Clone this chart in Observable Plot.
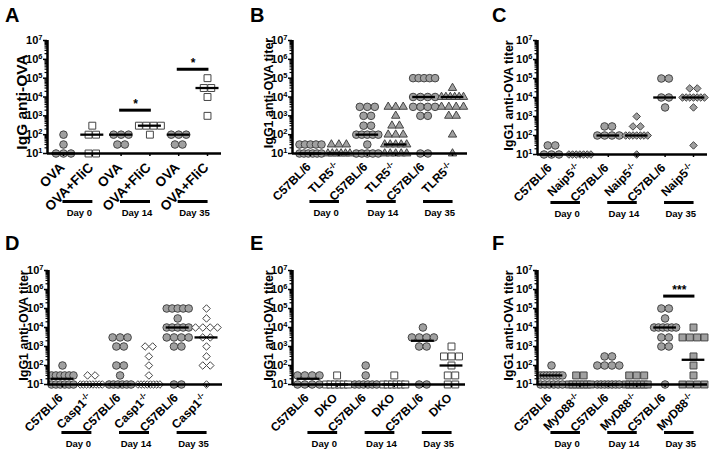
<!DOCTYPE html>
<html><head><meta charset="utf-8">
<script src="https://cdn.jsdelivr.net/npm/d3@7"></script>
<script src="https://cdn.jsdelivr.net/npm/@observablehq/plot@0.6"></script>
<style>
body{margin:0;background:#fff;font-family:"Liberation Sans",Arial,sans-serif;}
#fig{position:relative;width:714px;height:450px;overflow:hidden;background:#fff;}
.panel{position:absolute;}
.panel svg{overflow:visible;}
.letter{position:absolute;font-weight:bold;font-size:20px;line-height:20px;color:#000;}
</style></head><body><div id="fig"></div>
<script>
// ---------- shared ----------
const days = ["Day 0", "Day 14", "Day 35"];
const yTicks = [1e1, 1e2, 1e3, 1e4, 1e5, 1e6, 1e7];

// ---------- Panel A ----------
const labelsA = ["OVA", "OVA+FliC", "OVA", "OVA+FliC", "OVA", "OVA+FliC"];
const valuesA = [
  [100, 30, 10, 10, 10],
  [300, 100, 100, 10, 10],
  [100, 100, 100, 30, 30],
  [300, 300, 300, 300, 100],
  [100, 100, 100, 30, 30],
  [100000, 30000, 30000, 10000, 1000]
];
const mediansA = [10, 100, 100, 300, 100, 30000];
const sigPairsA = [1, 2];
const sigHeightsA = [2000, 300000];
const sigLabelsA = ["*", "*"];

// ---------- Panel B ----------
const labelsB = ["C57BL/6", "TLR5-/-", "C57BL/6", "TLR5-/-", "C57BL/6", "TLR5-/-"];
const valuesB = [
  [30, 30, 30, 30, 30, 10, 10, 10, 10, 10, 10],
  [30, 30, 30, 10, 10, 10, 10, 10, 10],
  [3000, 3000, 3000, 1000, 1000, 300, 300, 100, 100, 100, 100, 100, 30, 10, 10, 10, 10, 10],
  [3000, 3000, 3000, 1000, 300, 300, 100, 100, 100, 30, 30, 30, 30, 30, 10, 10, 10, 10, 10],
  [100000, 100000, 100000, 100000, 100000, 10000, 10000, 10000, 10000, 3000, 3000, 3000, 3000, 1000, 1000, 10, 10],
  [30000, 10000, 10000, 10000, 10000, 10000, 10000, 3000, 3000, 3000, 3000, 1000, 1000, 100, 10]
];
const mediansB = [10, 10, 100, 30, 10000, 10000];

// ---------- Panel C ----------
const labelsC = ["C57BL/6", "Naip5-/-", "C57BL/6", "Naip5-/-", "C57BL/6", "Naip5-/-"];
const valuesC = [
  [30, 30, 10, 10, 10],
  [10, 10, 10, 10, 10, 10, 10],
  [300, 300, 100, 100, 100, 100],
  [1000, 300, 300, 100, 100, 100, 100, 100, 100, 100, 10],
  [100000, 100000, 10000, 10000, 3000],
  [30000, 30000, 10000, 10000, 10000, 10000, 10000, 10000, 10000, 3000, 30]
];
const mediansC = [10, 10, 100, 100, 10000, 10000];

// ---------- Panel D ----------
const labelsD = ["C57BL/6", "Casp1-/-", "C57BL/6", "Casp1-/-", "C57BL/6", "Casp1-/-"];
const valuesD = [
  [100, 30, 30, 30, 30, 30, 30, 10, 10, 10, 10, 10, 10],
  [30, 30, 10, 10, 10, 10, 10, 10, 10, 10],
  [3000, 3000, 3000, 1000, 1000, 100, 100, 30, 10, 10, 10, 10, 10, 10],
  [1000, 1000, 300, 100, 30, 10, 10, 10, 10, 10, 10, 10, 10],
  [100000, 100000, 100000, 100000, 100000, 30000, 10000, 10000, 10000, 10000, 10000, 3000, 3000, 3000, 3000, 1000, 1000, 10, 10],
  [100000, 30000, 10000, 10000, 10000, 10000, 3000, 3000, 1000, 300, 100, 100, 10]
];
const mediansD = [20, 10, 10, 10, 10000, 3000];

// ---------- Panel E ----------
const labelsE = ["C57BL/6", "DKO", "C57BL/6", "DKO", "C57BL/6", "DKO"];
const valuesE = [
  [30, 30, 30, 30, 10, 10, 10, 10],
  [30, 10, 10, 10, 10, 10, 10],
  [100, 30, 10, 10, 10, 10, 10, 10],
  [30, 10, 10, 10, 10, 10, 10],
  [10000, 3000, 3000, 3000, 3000, 1000, 1000, 10, 10],
  [1000, 300, 300, 300, 100, 30, 30, 10, 10]
];
const mediansE = [20, 10, 10, 10, 2000, 100];

// ---------- Panel F ----------
const labelsF = ["C57BL/6", "MyD88-/-", "C57BL/6", "MyD88-/-", "C57BL/6", "MyD88-/-"];
const valuesF = [
  [100, 30, 30, 30, 30, 30, 30, 30, 30, 10, 10, 10, 10, 10, 10],
  [30, 30, 10, 10, 10, 10, 10, 10, 10],
  [300, 300, 100, 100, 100, 100, 10, 10, 10, 10, 10, 10, 10],
  [30, 30, 30, 10, 10, 10, 10, 10, 10, 10],
  [100000, 100000, 30000, 10000, 10000, 10000, 10000, 10000, 10000, 3000, 3000, 1000, 1000, 10],
  [10000, 3000, 3000, 3000, 3000, 300, 100, 30, 10, 10, 10, 10]
];
const mediansF = [30, 10, 10, 10, 10000, 200];
const sigPairsF = [2];
const sigHeightsF = [450000];
const sigLabelsF = ["***"];

// ---------- layout / style (not data) ----------
const GRAY = "#a0a0a0", EDGE = "#444";
const panels = [
  {letter: "A", labels: labelsA, values: valuesA, medians: mediansA, sigPairs: sigPairsA, sigHeights: sigHeightsA, sigLabels: sigLabelsA,
   ylab: "IgG anti-OVA", ylabSize: 15.5, ylabDx: -25, ylabDy: 5, tickSize: 13.5,
   g: {left: 0, top: 0, width: 235, axisL: 47, axisR: 221, c0: 63, c5: 207, yTop: 40, yBot: 153},
   s0: {symbol: "circle", r: 3.8, fill: GRAY}, s1: {symbol: "square", r: 3.9, fill: "#fff"}},
  {letter: "B", labels: labelsB, values: valuesB, medians: mediansB,
   ylab: "IgG1 anti-OVA titer", ylabSize: 12.5, ylabDx: -24, ylabDy: -4, tickSize: 12,
   g: {left: 235, top: 0, width: 235, axisL: 292, axisR: 467, c0: 310, c5: 452, yTop: 40, yBot: 153},
   s0: {symbol: "circle", r: 3.8, fill: GRAY}, s1: {symbol: "triangle", r: 3.1, fill: GRAY}},
  {letter: "C", labels: labelsC, values: valuesC, medians: mediansC,
   ylab: "IgG1 anti-OVA titer", ylabSize: 12.5, ylabDx: -29, ylabDy: -2, tickSize: 12,
   g: {left: 470, top: 0, width: 244, axisL: 537, axisR: 707, c0: 551, c5: 693, yTop: 40, yBot: 154},
   s0: {symbol: "circle", r: 3.8, fill: GRAY}, s1: {symbol: "diamond2", r: 3.4, fill: GRAY}},
  {letter: "D", labels: labelsD, values: valuesD, medians: mediansD,
   ylab: "IgG1 anti-OVA titer", ylabSize: 12.5, ylabDx: -25, ylabDy: -2, tickSize: 12,
   g: {left: 0, top: 225, width: 235, axisL: 48, axisR: 222, c0: 62, c5: 206, yTop: 270, yBot: 384},
   s0: {symbol: "circle", r: 3.8, fill: GRAY}, s1: {symbol: "diamond2", r: 3.4, fill: "#fff"}},
  {letter: "E", labels: labelsE, values: valuesE, medians: mediansE,
   ylab: "IgG1 anti-OVA titer", ylabSize: 12.5, ylabDx: -24, ylabDy: -2, tickSize: 12,
   g: {left: 235, top: 225, width: 235, axisL: 292, axisR: 465, c0: 308, c5: 451, yTop: 270, yBot: 384},
   s0: {symbol: "circle", r: 3.8, fill: GRAY}, s1: {symbol: "square", r: 3.9, fill: "#fff"}},
  {letter: "F", labels: labelsF, values: valuesF, medians: mediansF, sigPairs: sigPairsF, sigHeights: sigHeightsF, sigLabels: sigLabelsF,
   ylab: "IgG1 anti-OVA titer", ylabSize: 12.5, ylabDx: -29, ylabDy: -2, tickSize: 12,
   g: {left: 470, top: 225, width: 244, axisL: 537, axisR: 707, c0: 551, c5: 693, yTop: 270, yBot: 384},
   s0: {symbol: "circle", r: 3.8, fill: GRAY}, s1: {symbol: "square", r: 3.9, fill: GRAY}}
];

const minorTicks = [];
for (let e = 1; e < 7; e++) for (let m = 2; m < 10; m++) minorTicks.push(m * 10 ** e);

function supify(svg) {
  svg.querySelectorAll("text").forEach(t => {
    const s = t.textContent;
    let m = s.match(/^(.*?)\^(.+)$/) || s.match(/^(.*?)(-\/-)$/);
    if (!m) return;
    t.textContent = m[1];
    const ts = document.createElementNS("http://www.w3.org/2000/svg", "tspan");
    ts.setAttribute("font-size", "0.68em");
    ts.setAttribute("dy", "-0.5em");
    ts.textContent = m[2];
    t.appendChild(ts);
  });
}

const fig = document.getElementById("fig");
for (const p of panels) {
  const g = p.g;
  const unit = (g.c5 - g.c0) / 5;
  const x0 = -(g.c0 - g.axisL) / unit, x1 = 5 + (g.axisR - g.c5) / unit;
  // horizontal spread of equal values within a group (layout only)
  const pts = [];
  p.values.forEach((vals, gi) => {
    const counts = d3.rollup(vals, v => v.length, v => v);
    const seen = new Map();
    vals.forEach(v => {
      const k = counts.get(v), j = seen.get(v) || 0;
      seen.set(v, j + 1);
      const sp = k > 1 ? Math.min(7.5, 22 / (k - 1)) : 0;
      pts.push({grp: gi, v, xo: gi + (j - (k - 1) / 2) * sp / unit});
    });
  });
  const med = p.medians.map((m, i) => ({grp: i, m}));
  const dayData = days.map((d, i) => ({d, i}));
  const groupData = p.labels.map((l, i) => ({l, i}));
  const sig = (p.sigPairs || []).map((pr, i) => ({pr, y: p.sigHeights[i], t: p.sigLabels[i]}));
  const dotStyle = s => ({symbol: s.symbol, r: s.r, fill: s.fill, stroke: EDGE, strokeWidth: 1});

  const svg = Plot.plot({
    width: g.width, height: 225,
    marginLeft: g.axisL - g.left, marginRight: g.left + g.width - g.axisR,
    marginTop: g.yTop - g.top, marginBottom: g.top + 225 - g.yBot,
    style: {fontFamily: '"Liberation Sans", Arial, sans-serif', color: "#000", background: "transparent"},
    x: {domain: [x0, x1]},
    y: {type: "log", domain: [10, 1e7]},
    marks: [
      Plot.dot(pts.filter(d => d.grp % 2 === 0), {x: "xo", y: "v", ...dotStyle(p.s0)}),
      Plot.dot(pts.filter(d => d.grp % 2 === 1), {x: "xo", y: "v", ...dotStyle(p.s1)}),
      Plot.ruleY(med, {y: "m", x1: d => d.grp - 0.4, x2: d => d.grp + 0.4, stroke: "#000", strokeWidth: 2.3}),
      Plot.axisY({ticks: minorTicks, tickSize: 2.5, tickFormat: () => "", label: null, strokeWidth: 1.2}),
      Plot.axisY({ticks: yTicks, tickSize: 4, tickPadding: 1, tickFormat: v => "10^" + Math.round(Math.log10(v)),
        label: null, fontSize: 11, fontWeight: "bold", strokeWidth: 1.5}),
      Plot.axisX({ticks: [0, 1, 2, 3, 4, 5], tickSize: 3, tickFormat: () => "", label: null, strokeWidth: 1.5}),
      Plot.text(groupData, {x: "i", y: () => 10, text: "l", rotate: -45, textAnchor: "end", lineAnchor: "top",
        dx: -5, dy: 8, fontSize: p.tickSize, fontWeight: "bold"}),
      Plot.ruleX([x0], {y1: 10, y2: 1e7, stroke: "#000", strokeWidth: 2.5}),
      Plot.ruleY([10], {x1: x0, x2: x1, stroke: "#000", strokeWidth: 2.5}),
      Plot.ruleY(sig, {y: "y", x1: d => 2 * d.pr - 0.05, x2: d => 2 * d.pr + 1.05, stroke: "#000", strokeWidth: 3}),
      Plot.text(sig, {x: d => 2 * d.pr + 0.5, y: "y", text: "t", dy: -6, fontSize: 12, fontWeight: "bold"}),
      Plot.ruleY(dayData, {y: () => 10, x1: d => 2 * d.i - 0.02, x2: d => 2 * d.i + 1.02, dy: 48, stroke: "#000", strokeWidth: 3}),
      Plot.text(dayData, {x: d => 2 * d.i + 0.55, y: () => 10, text: "d", dy: 59, fontSize: 9.5, fontWeight: "bold"}),
      Plot.text([p.ylab], {frameAnchor: "left", textAnchor: "middle", rotate: -90, dx: p.ylabDx, dy: p.ylabDy, fontSize: p.ylabSize, fontWeight: "bold"})
    ]
  });
  supify(svg);
  const div = document.createElement("div");
  div.className = "panel";
  div.style.left = g.left + "px";
  div.style.top = g.top + "px";
  div.appendChild(svg);
  fig.appendChild(div);
  const L = document.createElement("div");
  L.className = "letter";
  L.textContent = p.letter;
  L.style.left = (g.left + (p.letter === "A" || p.letter === "D" ? 5 : (p.letter === "B" || p.letter === "E" ? 15 : 22))) + "px";
  L.style.top = (g.top + (g.top === 0 ? 5 : 8)) + "px";
  fig.appendChild(L);
}
</script></body></html>
